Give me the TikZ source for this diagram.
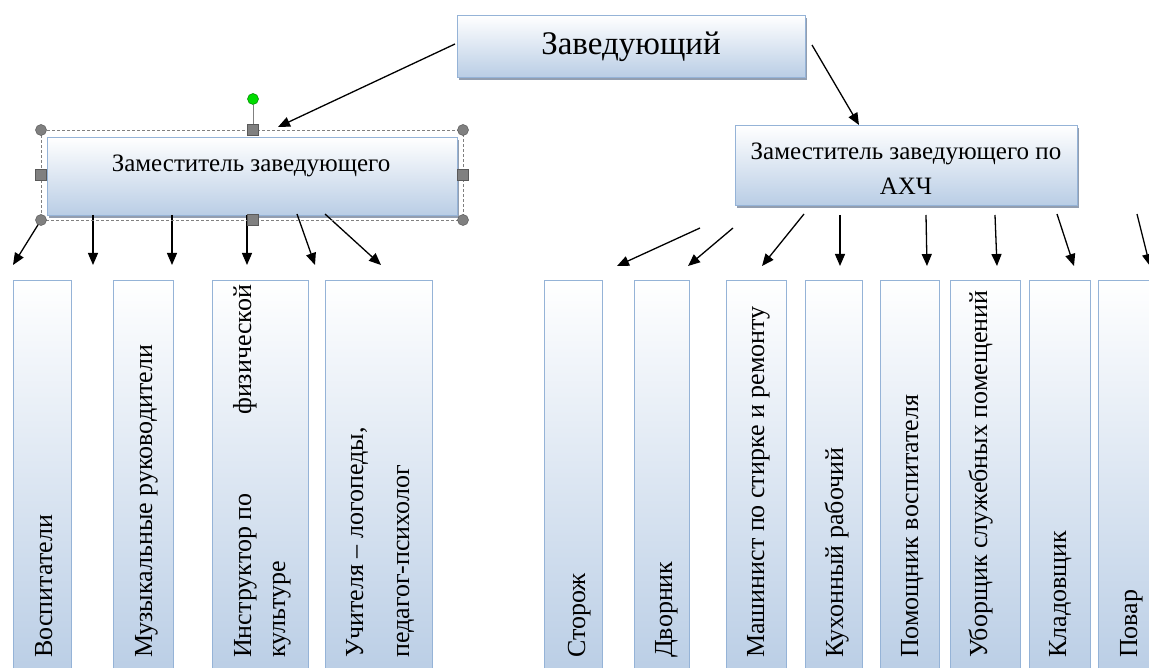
\documentclass[tikz,border=0pt]{standalone}
\usepackage{fontspec}
\setmainfont{Liberation Serif}
\usetikzlibrary{arrows.meta,shadows}
\definecolor{bfill}{RGB}{185,205,229}
\definecolor{bline}{RGB}{149,179,215}
\definecolor{shad}{RGB}{135,148,168}
\definecolor{hgray}{RGB}{128,128,128}
\definecolor{hgreen}{RGB}{0,220,0}
\tikzset{
  headbox/.style={draw=bline, line width=1pt, top color=white, bottom color=bfill,
    inner sep=0pt, anchor=north west,
    drop shadow={shadow xshift=1.5pt, shadow yshift=-3pt, fill=shad, opacity=0.9}},
  colbox/.style={draw=bline, line width=1.2pt, top color=white, bottom color=bfill,
    inner sep=0pt, anchor=north west, minimum height=400pt},
  htext/.style={inner sep=0pt, font=\fontsize{25}{30}\selectfont, anchor=base},
  vtext/.style={inner sep=0pt, font=\fontsize{26}{30}\selectfont, rotate=90, anchor=base west},
  arr/.style={line width=1.3pt, -{Triangle[length=12pt,width=10pt]}},
  handlec/.style={circle, fill=hgray, draw=gray!70!black, line width=0.5pt, minimum size=11pt, inner sep=0pt},
  handles/.style={rectangle, fill=hgray, draw=gray!70!black, line width=0.5pt, minimum size=11pt, inner sep=0pt},
}
\begin{document}
\begin{tikzpicture}[x=1pt,y=-1pt]
\clip (0,0) rectangle (1149,668);
\fill[white] (0,0) rectangle (1149,668);

% head boxes
\node[headbox, minimum width=348pt, minimum height=62pt] (zav) at (457,15) {};
\node[inner sep=0pt, font=\fontsize{33}{38}\selectfont, anchor=base] (zavt) at (631,55) {Заведующий};

\node[headbox, minimum width=410pt, minimum height=78pt] (zam) at (47,137) {};
\node[htext] (zamt) at (251,172) {Заместитель заведующего};

\node[headbox, minimum width=342pt, minimum height=80pt] (ahch) at (735,125) {};
\node[htext] (ahcht1) at (906,160) {Заместитель заведующего по};
\node[htext] (ahcht2) at (906,195) {АХЧ};

% column boxes, left group
\node[colbox, minimum width=58pt] (c1) at (13,280) {};
\node[colbox, minimum width=60pt] (c2) at (113,280) {};
\node[colbox, minimum width=96pt] (c3) at (212,280) {};
\node[colbox, minimum width=107pt] (c4) at (325,280) {};
% right group
\node[colbox, minimum width=58pt] (d1) at (544,280) {};
\node[colbox, minimum width=55pt] (d2) at (634,280) {};
\node[colbox, minimum width=60pt] (d3) at (726,280) {};
\node[colbox, minimum width=57pt] (d4) at (805,280) {};
\node[colbox, minimum width=59pt] (d5) at (880,280) {};
\node[colbox, minimum width=70pt] (d6) at (950,280) {};
\node[colbox, minimum width=61pt] (d7) at (1029,280) {};
\node[colbox, minimum width=72pt] (d8) at (1098,280) {};

% column texts
\node[vtext] (t1) at (52,658) {Воспитатели};
\node[vtext] (t2) at (152,658) {Музыкальные руководители};
\node[vtext] (t3a) at (251,658) {\makebox[373pt][l]{Инструктор по\hfill физической}};
\node[vtext] (t3b) at (285,658) {культуре};
\node[vtext] (t4a) at (363,658) {Учителя – логопеды,};
\node[vtext] (t4b) at (409,658) {педагог-психолог};

\node[vtext] (u1) at (585,658) {Сторож};
\node[vtext] (u2) at (672,658) {Дворник};
\node[vtext] (u3) at (764,658) {Машинист по стирке и ремонту};
\node[vtext] (u4) at (843,658) {Кухонный рабочий};
\node[vtext] (u5) at (918,658) {Помощник воспитателя};
\node[vtext] (u6) at (987,658) {Уборщик служебных помещений};
\node[vtext] (u7) at (1066,658) {Кладовщик};
\node[vtext] (u8) at (1137,658) {Повар};

% arrow end points
\coordinate (a1s) at (455,44);  \coordinate (a1e) at (278,127);
\coordinate (a2s) at (812,45);  \coordinate (a2e) at (859,125);

\coordinate (l1s) at (41,220);  \coordinate (l1e) at (13,265);
\coordinate (l2s) at (93,215);  \coordinate (l2e) at (93,265);
\coordinate (l3s) at (172,215); \coordinate (l3e) at (172,265);
\coordinate (l4s) at (247,215); \coordinate (l4e) at (247,265);
\coordinate (l5s) at (297,214); \coordinate (l5e) at (315,265);
\coordinate (l6s) at (325,214); \coordinate (l6e) at (381,265);

\coordinate (r1s) at (700,228); \coordinate (r1e) at (617,266);
\coordinate (r2s) at (733,228); \coordinate (r2e) at (688,266);
\coordinate (r3s) at (804,214); \coordinate (r3e) at (762,266);
\coordinate (r4s) at (840,215); \coordinate (r4e) at (840,266);
\coordinate (r5s) at (926,215); \coordinate (r5e) at (927,266);
\coordinate (r6s) at (995,215); \coordinate (r6e) at (997,266);
\coordinate (r7s) at (1057,214); \coordinate (r7e) at (1074,266);
\coordinate (r8s) at (1137,214); \coordinate (r8e) at (1150,266);

\foreach \s/\e in {a1s/a1e,a2s/a2e,l1s/l1e,l2s/l2e,l3s/l3e,l4s/l4e,l5s/l5e,l6s/l6e,
  r1s/r1e,r2s/r2e,r3s/r3e,r4s/r4e,r5s/r5e,r6s/r6e,r7s/r7e,r8s/r8e}
  \draw[arr] (\s) -- (\e);

% selection frame with handles
\draw[hgray, line width=0.8pt, dash pattern=on 3pt off 2pt] (41,130) rectangle (463,220);
\node[handlec, fill=hgreen, draw=green!50!black] (hg) at (253,99) {};
\node[handles] (htop) at (253,130) {};
\draw[hgray, line width=1pt] (hg) -- (htop);
\node[handles] (hbot) at (253,220) {};
\node[handles] (hleft) at (41,175) {};
\node[handles] (hright) at (463,175) {};
\node[handlec] (hnw) at (41,130) {};
\node[handlec] (hne) at (463,130) {};
\node[handlec] (hsw) at (41,220) {};
\node[handlec] (hse) at (463,220) {};
\end{tikzpicture}
\end{document}
